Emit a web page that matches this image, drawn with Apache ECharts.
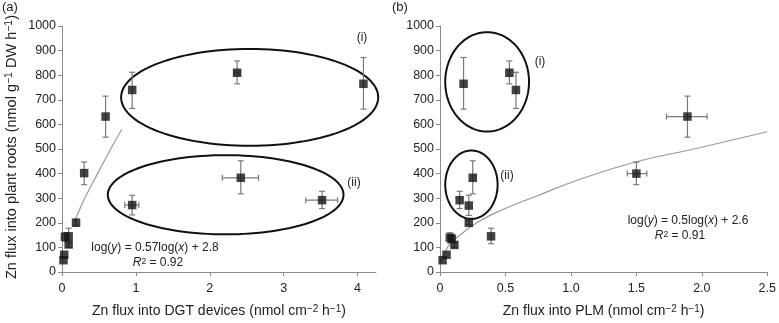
<!DOCTYPE html>
<html>
<head>
<meta charset="utf-8">
<script src="https://cdn.jsdelivr.net/npm/echarts@6/dist/echarts.min.js"></script>
<style>html,body{margin:0;padding:0;background:#fff;}#c{width:779px;height:323px;}</style>
</head>
<body>
<div id="c"></div>
<script>
// Panel (a): Zn flux into DGT devices vs roots
const aX   = [0.02, 0.03, 0.04, 0.09, 0.09, 0.19, 0.30, 0.59, 0.95, 2.37, 4.08, 0.95, 2.42, 3.52];
const aY   = [48, 70, 143, 145, 112, 200, 402, 632, 740, 810, 765, 272, 383, 292];
const aYLo = [48, 70, 125, 118, 100, 190, 355, 548, 665, 765, 662, 232, 318, 258];
const aYHi = [48, 70, 160, 178, 125, 215, 447, 715, 812, 858, 872, 312, 452, 328];
const aXLo = [0.02, 0.03, 0.04, 0.09, 0.09, 0.19, 0.30, 0.59, 0.95, 2.33, 4.08, 0.85, 2.17, 3.30];
const aXHi = [0.02, 0.03, 0.04, 0.09, 0.09, 0.19, 0.30, 0.59, 0.95, 2.41, 4.08, 1.04, 2.66, 3.73];
const aFitX = [0.17, 0.25, 0.35, 0.5, 0.65, 0.81];
const aFitY = [205, 262, 325, 410, 495, 580];
const aEllipses = [[2.54, 710, 1.74, 197], [2.215, 314, 1.595, 161]];
const aXTicks = [0, 1, 2, 3, 4];

// Panel (b): Zn flux into PLM vs roots
const bX   = [0.02, 0.05, 0.075, 0.09, 0.11, 0.22, 0.22, 0.15, 0.25, 0.39, 1.50, 1.89, 0.18, 0.53, 0.58];
const bY   = [48, 70, 140, 135, 110, 200, 270, 292, 383, 145, 400, 632, 765, 810, 740];
const bYLo = [48, 70, 118, 120, 100, 192, 230, 258, 318, 115, 355, 548, 662, 765, 665];
const bYHi = [48, 70, 160, 150, 120, 212, 312, 328, 452, 178, 447, 715, 872, 858, 812];
const bXLo = [0.02, 0.05, 0.075, 0.09, 0.11, 0.22, 0.22, 0.15, 0.25, 0.39, 1.43, 1.73, 0.18, 0.53, 0.58];
const bXHi = [0.02, 0.05, 0.075, 0.09, 0.11, 0.22, 0.22, 0.15, 0.25, 0.39, 1.58, 2.04, 0.18, 0.53, 0.58];
const bFitX = [0.003, 0.06, 0.136, 0.29, 0.49, 0.74, 1.06, 1.5, 1.94, 2.5];
const bFitY = [30, 103, 143, 203, 256, 309, 375, 448, 500, 570];
const bEllipses = [[0.36, 773, 0.32, 202], [0.24, 355, 0.20, 139]];

const yTicksMax = 1000;

const FONT = 'Liberation Sans, Arial, Helvetica, sans-serif';
const AXIS_C = '#8a8a8a';
const TXT_C = '#222';

function zip(...arrs){ return arrs[0].map((_, i) => arrs.map(a => a[i])); }

function errRender(params, api){
  const x = api.value(0), y = api.value(1);
  const ylo = api.value(2), yhi = api.value(3), xlo = api.value(4), xhi = api.value(5);
  const children = [];
  const st = {stroke: '#7a7a7a', lineWidth: 1.2};
  const cap = 3;
  if (yhi > ylo) {
    const p1 = api.coord([x, ylo]), p2 = api.coord([x, yhi]);
    children.push({type:'line', shape:{x1:p1[0], y1:p1[1], x2:p2[0], y2:p2[1]}, style:st});
    children.push({type:'line', shape:{x1:p1[0]-cap, y1:p1[1], x2:p1[0]+cap, y2:p1[1]}, style:st});
    children.push({type:'line', shape:{x1:p2[0]-cap, y1:p2[1], x2:p2[0]+cap, y2:p2[1]}, style:st});
  }
  if (xhi > xlo) {
    const q1 = api.coord([xlo, y]), q2 = api.coord([xhi, y]);
    children.push({type:'line', shape:{x1:q1[0], y1:q1[1], x2:q2[0], y2:q2[1]}, style:st});
    children.push({type:'line', shape:{x1:q1[0], y1:q1[1]-cap, x2:q1[0], y2:q1[1]+cap}, style:st});
    children.push({type:'line', shape:{x1:q2[0], y1:q2[1]-cap, x2:q2[0], y2:q2[1]+cap}, style:st});
  }
  return {type:'group', children};
}

function ellipseRender(params, api){
  const c = api.coord([api.value(0), api.value(1)]);
  const s = api.size([api.value(2), api.value(3)]);
  const pts = [];
  const n = 120;
  for (let i = 0; i < n; i++) {
    const t = 2 * Math.PI * i / n;
    pts.push([c[0] + s[0] * Math.cos(t), c[1] + s[1] * Math.sin(t)]);
  }
  return {type:'polygon', shape:{points: pts}, style:{fill:'none', stroke:'#111', lineWidth:2}};
}

const supRich = {s: {fontSize: 10, verticalAlign: 'top', fontFamily: FONT, color: TXT_C, lineHeight: 11}};
const supRichY = {s: {fontSize: 10.5, verticalAlign: 'top', fontFamily: FONT, color: TXT_C, lineHeight: 11.5}};

function yAxisCfg(grid, withName){
  return {
    gridIndex: grid, type: 'value', min: 0, max: yTicksMax, interval: 100,
    axisLine: {show: true, lineStyle: {color: AXIS_C, width: 1}},
    axisTick: {show: true, length: 4, lineStyle: {color: AXIS_C}},
    axisLabel: {color: TXT_C, fontSize: 12.5, fontFamily: FONT, margin: 6, formatter: v => String(v)},
    splitLine: {show: false},
    name: withName ? 'Zn flux into plant roots (nmol g{s|−1} DW h{s|−1})' : '',
    nameLocation: 'middle', nameGap: 43,
    nameTextStyle: {color: TXT_C, fontSize: 14.5, fontFamily: FONT, rich: supRichY, padding: [0, 0, 0, 4]}
  };
}

const option = {
  animation: false,
  backgroundColor: '#fff',
  textStyle: {fontFamily: FONT},
  grid: [
    {left: 62, top: 26, width: 314, height: 251},
    {left: 440, top: 26, width: 330, height: 252}
  ],
  xAxis: [
    {
      gridIndex: 0, type: 'value', min: 0, max: 4.25, interval: 1,
      axisLine: {show: true, onZero: false, lineStyle: {color: AXIS_C, width: 1}},
      axisTick: {show: true, length: 4, customValues: aXTicks, lineStyle: {color: AXIS_C}},
      axisLabel: {customValues: aXTicks, color: TXT_C, fontSize: 12.5, fontFamily: FONT, margin: 10},
      splitLine: {show: false},
      name: 'Zn flux into DGT devices (nmol cm{s|−2} h{s|−1})',
      nameLocation: 'middle', nameGap: 32,
      nameTextStyle: {color: TXT_C, fontSize: 14, fontFamily: FONT, rich: supRich}
    },
    {
      gridIndex: 1, type: 'value', min: 0, max: 2.5, interval: 0.5,
      axisLine: {show: true, onZero: false, lineStyle: {color: AXIS_C, width: 1}},
      axisTick: {show: true, length: 4, lineStyle: {color: AXIS_C}},
      axisLabel: {color: TXT_C, fontSize: 12.5, fontFamily: FONT, margin: 10,
        formatter: v => v === 0 ? '0' : v.toFixed(1)},
      splitLine: {show: false},
      name: 'Zn flux into PLM (nmol cm{s|−2} h{s|−1})',
      nameLocation: 'middle', nameGap: 32,
      nameTextStyle: {color: TXT_C, fontSize: 14, fontFamily: FONT, rich: supRich}
    }
  ],
  yAxis: [yAxisCfg(0, true), yAxisCfg(1, false)],
  series: [
    {type:'custom', xAxisIndex:0, yAxisIndex:0, renderItem: ellipseRender, clip:false,
     encode:{x:0, y:1}, data: aEllipses, z: 1, silent: true},
    {type:'custom', xAxisIndex:1, yAxisIndex:1, renderItem: ellipseRender, clip:false,
     encode:{x:0, y:1}, data: bEllipses, z: 1, silent: true},
    {type:'line', xAxisIndex:0, yAxisIndex:0, data: zip(aFitX, aFitY), smooth: true,
     showSymbol: false, lineStyle:{color:'#999', width:1.2}, z: 2},
    {type:'line', xAxisIndex:1, yAxisIndex:1, data: zip(bFitX, bFitY), smooth: true,
     showSymbol: false, lineStyle:{color:'#999', width:1.2}, z: 2},
    {type:'custom', xAxisIndex:0, yAxisIndex:0, renderItem: errRender,
     encode:{x:[0,4,5], y:[1,2,3]}, data: zip(aX, aY, aYLo, aYHi, aXLo, aXHi), z: 3},
    {type:'custom', xAxisIndex:1, yAxisIndex:1, renderItem: errRender,
     encode:{x:[0,4,5], y:[1,2,3]}, data: zip(bX, bY, bYLo, bYHi, bXLo, bXHi), z: 3},
    {type:'scatter', xAxisIndex:0, yAxisIndex:0, symbol:'rect', symbolSize: 8.5,
     itemStyle:{color:'#141414'}, data: zip(aX, aY), z: 4},
    {type:'scatter', xAxisIndex:1, yAxisIndex:1, symbol:'rect', symbolSize: 8.5,
     itemStyle:{color:'#141414'}, data: zip(bX, bY), z: 4}
  ],
  graphic: [
    {type:'text', left: 2, top: 1, style:{text:'(a)', fill: TXT_C, font: '13px ' + FONT}},
    {type:'text', left: 392, top: 1, style:{text:'(b)', fill: TXT_C, font: '13px ' + FONT}},
    {type:'text', x: 362, y: 38, style:{text:'(i)', fill: TXT_C, font: '12px ' + FONT, align:'center', verticalAlign:'middle'}},
    {type:'text', x: 354, y: 183, style:{text:'(ii)', fill: TXT_C, font: '12px ' + FONT, align:'center', verticalAlign:'middle'}},
    {type:'text', x: 540, y: 62, style:{text:'(i)', fill: TXT_C, font: '12px ' + FONT, align:'center', verticalAlign:'middle'}},
    {type:'text', x: 507, y: 176, style:{text:'(ii)', fill: TXT_C, font: '12px ' + FONT, align:'center', verticalAlign:'middle'}},
    {type:'text', x: 155, y: 248, style:{text:'log({i|y}) = 0.57log({i|x}) + 2.8', fill: TXT_C, font: '12px ' + FONT,
      align:'center', verticalAlign:'middle', rich:{i:{fontStyle:'italic', fontSize:12, fontFamily:FONT, fill:TXT_C}}}},
    {type:'text', x: 158, y: 263, style:{text:'{i|R}{s|2} = 0.92', fill: TXT_C, font: '12px ' + FONT,
      align:'center', verticalAlign:'middle', rich:{i:{fontStyle:'italic', fontSize:12, fontFamily:FONT, fill:TXT_C}, s:{fontSize:8.5, verticalAlign:'top', fontFamily:FONT, fill:TXT_C}}}},
    {type:'text', x: 688, y: 221, style:{text:'log({i|y}) = 0.5log({i|x}) + 2.6', fill: TXT_C, font: '12px ' + FONT,
      align:'center', verticalAlign:'middle', rich:{i:{fontStyle:'italic', fontSize:12, fontFamily:FONT, fill:TXT_C}}}},
    {type:'text', x: 680, y: 236, style:{text:'{i|R}{s|2} = 0.91', fill: TXT_C, font: '12px ' + FONT,
      align:'center', verticalAlign:'middle', rich:{i:{fontStyle:'italic', fontSize:12, fontFamily:FONT, fill:TXT_C}, s:{fontSize:8.5, verticalAlign:'top', fontFamily:FONT, fill:TXT_C}}}}
  ]
};

const chart = echarts.init(document.getElementById('c'), null, {renderer: 'canvas'});
chart.setOption(option);
</script>
</body>
</html>
